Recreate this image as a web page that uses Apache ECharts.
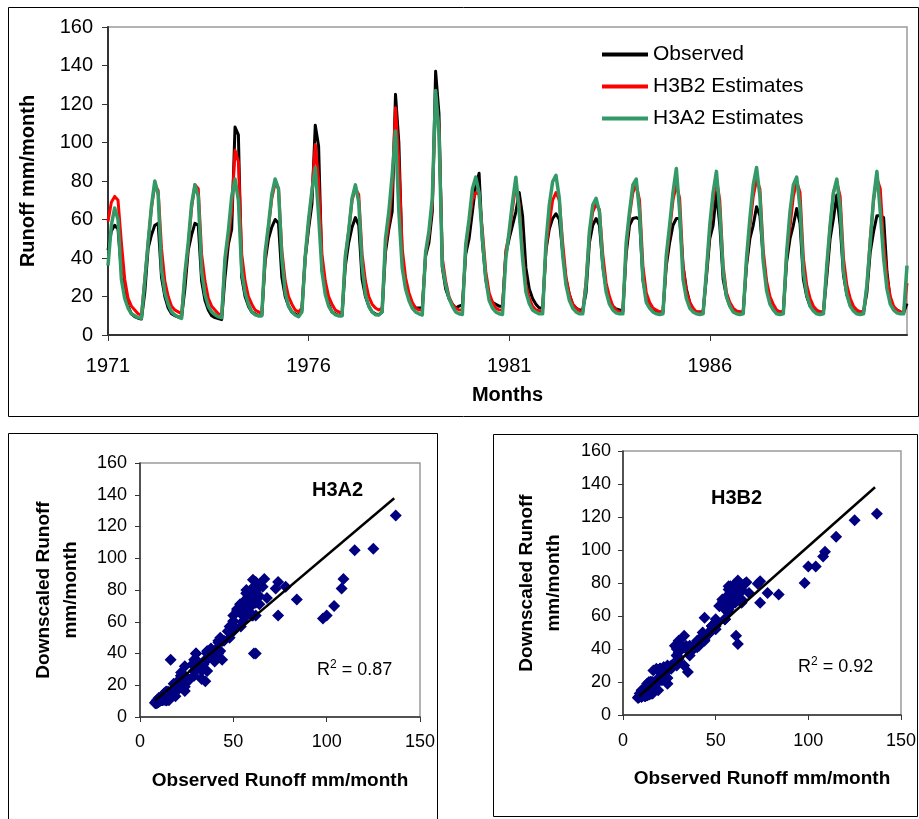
<!DOCTYPE html>
<html>
<head>
<meta charset="utf-8">
<script src="https://cdn.jsdelivr.net/npm/echarts@6/dist/echarts.min.js"></script>
<style>
  html, body { margin: 0; padding: 0; background: #fff; }
  #chart { width: 919px; height: 819px; }
</style>
</head>
<body>
<div id="chart"></div>
<script>
  // monthly runoff, mm/month, Jan 1971 .. Dec 1990 (one row per year)
  var observed = [
    44, 54, 57, 55, 33, 22, 15, 11, 9.5, 8.7, 8.3, 22,
    45, 52, 57, 58, 30, 20, 14, 11, 10, 9.5, 9, 24,
    44, 52, 58, 57, 28, 18, 13, 10, 9, 8.5, 8, 30,
    47, 55, 108, 104, 30, 20, 15, 12, 11, 10, 10, 38,
    50, 56, 60, 58, 30, 20, 15, 12, 11, 10, 13, 40,
    55, 68, 109, 98, 34, 24, 16, 12, 11, 10, 10, 36,
    48, 56, 61, 57, 29, 20, 15, 12, 11, 10.5, 12, 43,
    55, 64, 125, 100, 40, 26, 19, 16, 14, 14, 14, 41,
    48, 64, 137, 115, 35, 24, 19, 16, 14, 15, 15.6, 42,
    50, 64, 78, 84, 48, 29, 20, 17, 16, 15, 15, 42,
    50, 57, 64, 74, 62, 35, 24, 19, 16, 14, 14, 44,
    55, 60.5, 63, 60, 43, 29, 21, 16, 14, 13, 13, 22,
    48, 57, 60.5, 57, 36, 24, 18, 15, 13.5, 13, 12.5, 42,
    57, 60.5, 61, 60, 29, 19, 15, 13, 12, 12, 12, 36,
    48, 57, 60.5, 60.5, 36, 24, 17, 13, 12, 12, 12, 30,
    50, 57, 74, 57, 29, 20, 15, 13, 12, 12, 12, 36,
    50, 57, 66.6, 62, 40, 26, 18, 14, 12.5, 12, 12, 38,
    50, 57, 65.7, 58, 29, 20, 15, 13, 12, 12, 12, 30,
    50, 60.5, 72.7, 57, 31, 21, 16, 13, 12, 12, 12, 22,
    43, 53.6, 62, 62, 61, 33, 18, 14, 13, 12, 11.5, 16.4
  ]

  var h3b2 = [
    59, 69, 72, 70, 48, 29, 19, 15, 13, 11, 10.4, 29,
    48, 66, 78, 75, 45, 28, 20, 15, 13, 12, 11, 30,
    46, 66, 78, 76, 42, 28, 19, 15, 13, 11, 10.5, 38,
    50, 64, 96, 90, 42, 28, 20, 16, 13, 12, 11, 40,
    56, 71, 79, 76, 44, 28, 20, 16, 13, 12, 14, 41,
    58, 74, 99, 80, 42, 28, 20, 16, 13, 12, 11, 40,
    54, 70, 76, 73, 42, 28, 20, 16, 14, 13, 14, 46,
    58, 76, 118, 90, 45, 30, 22, 17, 14, 13, 13, 42,
    52, 68, 122, 108, 40, 28, 20, 16, 14, 13, 13, 45,
    58, 70, 74, 73, 54, 33, 22, 17, 14, 13, 13, 44,
    52, 66, 78, 68, 43, 26, 19, 15, 13, 12.5, 12.5, 45,
    58, 70, 74, 70, 48, 30, 21, 16, 14, 12.5, 12, 28,
    52, 64, 68, 65, 42, 27, 20, 15, 13, 12, 12, 45,
    62, 74, 78, 70, 36, 22, 17, 14, 13, 12, 12, 38,
    54, 70, 78, 71, 36, 22.5, 17, 14, 12, 12, 11.5, 32,
    54, 70, 81, 70, 36, 22, 17, 14, 12.5, 12, 11.5, 38,
    56, 72, 80.5, 76, 44, 28, 20, 16, 13, 12, 12, 42,
    56, 72, 79.6, 74, 40, 26, 19, 15, 13, 12, 12, 34,
    56, 74, 79.6, 72, 40, 26, 19, 15, 13, 12, 12, 25,
    50, 70, 81.5, 76, 48, 30, 20, 15, 13, 12, 11.5, 27
  ]

  var h3a2 = [
    36, 57, 66, 60, 29, 19, 14, 11, 10, 9, 8.7, 28,
    48, 67, 80, 73, 34, 22, 16, 12, 10.4, 9.3, 8.6, 32,
    48, 68, 78, 72, 33, 21, 15, 12, 10.5, 9.5, 9, 40,
    54, 72, 81, 70, 33, 22, 16, 12, 10.5, 10, 10, 43,
    57, 73, 81, 76, 40, 22, 15, 12, 10.4, 9.5, 12, 41,
    60, 75, 87, 62, 33, 21, 15, 12, 10.5, 10, 10, 41,
    54, 71, 78, 69, 36, 21, 15, 12, 10.5, 10.4, 12, 50,
    64, 83, 106, 64, 35, 24, 18, 14, 12, 11, 10.4, 43,
    54, 71, 127, 105, 36, 26, 19, 15, 12, 11, 10.7, 47,
    60, 76, 82, 74, 50, 29, 18, 14, 12, 11, 10.7, 40,
    54, 69, 82, 64, 40, 22.5, 16.4, 13, 11.8, 11, 11, 48,
    67.5, 79.6, 83, 71, 41.5, 26, 18, 14, 12, 11, 11, 26,
    53.6, 67.5, 71, 64, 36, 22.5, 16, 13, 11.5, 11, 11, 48,
    64, 78, 81, 64, 29, 17, 14, 12, 11, 10.7, 11, 41.5,
    57, 74, 86.5, 64, 29, 19, 14, 12, 11, 10.7, 11, 33,
    57, 74, 85, 64, 33, 20, 15, 12, 11, 10.7, 11, 40,
    60.5, 78, 87, 72, 38, 23, 16, 13, 11, 10.7, 11, 43,
    64, 78, 82, 66, 33, 21, 15, 12.5, 11, 10.7, 11, 36,
    57, 74, 81, 66, 33, 21, 15, 12.5, 11, 10.7, 11, 26,
    48, 71, 85, 64, 40, 24, 16, 13, 11.5, 11, 11, 36
  ]

  var yearTicks = ['1971', '1976', '1981', '1986']

  // trendline end points [observed, downscaled]
  var trendA2 = [[8, 10.3], [136.2, 137.8]]
  var trendB2 = [[8.8, 11.5], [136, 138]]

  var months = observed.map(function (v, i) {
    return (1971 + Math.floor(i / 12)) + '-' + String(i % 12 + 1).padStart(2, '0')
  })

  var font = 'Liberation Sans, Arial, sans-serif'
  var tickFn = function (i, v) {
    return v.slice(5) === '01' && yearTicks.indexOf(v.slice(0, 4)) >= 0
  }

  function scatterAxes(idx, ymargin, xmargin) {
    return {
      x: {
        type: 'value', gridIndex: idx, min: 0, max: 150, interval: 50,
        name: 'Observed Runoff mm/month', nameLocation: 'middle', nameGap: 54,
        nameTextStyle: { fontFamily: font, fontSize: 19, fontWeight: 'bold', color: '#000' },
        axisLine: { lineStyle: { color: '#333', width: 1.5 } },
        axisTick: { length: 5, lineStyle: { color: '#333' } },
        axisLabel: { fontFamily: font, fontSize: 18, color: '#000', margin: xmargin },
        splitLine: { show: false }
      },
      y: {
        type: 'value', gridIndex: idx, min: 0, max: 160, interval: 20,
        name: 'Downscaled Runoff\nmm/month', nameLocation: 'middle', nameGap: 56,
        nameTextStyle: { fontFamily: font, fontSize: 19, fontWeight: 'bold', color: '#000', lineHeight: 27 },
        axisLine: { show: true, lineStyle: { color: '#333', width: 1.5 } },
        axisTick: { show: true, length: 5, lineStyle: { color: '#333' } },
        axisLabel: { fontFamily: font, fontSize: 18, color: '#000', margin: ymargin },
        splitLine: { show: false }
      }
    }
  }

  var sa = scatterAxes(1, 13, 16)
  var sb = scatterAxes(2, 12, 17)

  var r2Rich = {
    a: { fontFamily: font, fontSize: 18, fontWeight: 'normal', color: '#000', lineHeight: 22 },
    s: { fontFamily: font, fontSize: 12, fontWeight: 'normal', color: '#000', verticalAlign: 'top', lineHeight: 22 }
  }

  var chart = echarts.init(document.getElementById('chart'))
  chart.setOption({
    animation: false,
    backgroundColor: '#fff',
    graphic: [
      { type: 'rect', shape: { x: 8.5, y: 7.5, width: 910, height: 409 }, style: { fill: 'none', stroke: '#000', lineWidth: 1 } },
      { type: 'rect', shape: { x: 8.5, y: 433.5, width: 429, height: 400 }, style: { fill: 'none', stroke: '#000', lineWidth: 1 } },
      { type: 'rect', shape: { x: 493.5, y: 434.5, width: 424, height: 382 }, style: { fill: 'none', stroke: '#000', lineWidth: 1 } }
    ],
    title: [
      { text: 'H3A2', left: 312, top: 480, padding: 0, textStyle: { fontFamily: font, fontSize: 20, fontWeight: 'bold', color: '#000' } },
      { text: 'H3B2', left: 711, top: 488, padding: 0, textStyle: { fontFamily: font, fontSize: 20, fontWeight: 'bold', color: '#000' } },
      { text: '{a|R}{s|2}{a| = 0.87}', left: 317, top: 659, padding: 0, textStyle: { fontWeight: 'normal', rich: r2Rich } },
      { text: '{a|R}{s|2}{a| = 0.92}', left: 798, top: 656, padding: 0, textStyle: { fontWeight: 'normal', rich: r2Rich } }
    ],
    legend: {
      data: ['Observed', 'H3B2 Estimates', 'H3A2 Estimates'],
      orient: 'vertical',
      left: 597, top: 39,
      itemWidth: 46, itemHeight: 4, itemGap: 11,
      icon: 'rect',
      textStyle: { fontFamily: font, fontSize: 21, color: '#000' }
    },
    grid: [
      { left: 108, top: 27, width: 799, height: 308, show: true, borderColor: '#9a9a9a', borderWidth: 1.5 },
      { left: 140, top: 463, width: 280, height: 254, show: true, borderColor: '#9a9a9a', borderWidth: 1.5 },
      { left: 623, top: 451, width: 279, height: 264, show: true, borderColor: '#9a9a9a', borderWidth: 1.5 }
    ],
    xAxis: [
      {
        type: 'category', gridIndex: 0, data: months, boundaryGap: false,
        name: 'Months', nameLocation: 'middle', nameGap: 50,
        nameTextStyle: { fontFamily: font, fontSize: 20, fontWeight: 'bold', color: '#000' },
        axisLine: { lineStyle: { color: '#333', width: 2 } },
        axisTick: { interval: tickFn, length: 6, lineStyle: { color: '#333' } },
        axisLabel: { interval: tickFn, formatter: function (v) { return v.slice(0, 4) }, fontFamily: font, fontSize: 20, color: '#000', margin: 21 },
        splitLine: { show: false }
      },
      sa.x, sb.x
    ],
    yAxis: [
      {
        type: 'value', gridIndex: 0, min: 0, max: 160, interval: 20,
        name: 'Runoff mm/month', nameLocation: 'middle', nameGap: 70,
        nameTextStyle: { fontFamily: font, fontSize: 20, fontWeight: 'bold', color: '#000' },
        axisLine: { show: true, lineStyle: { color: '#333', width: 2 } },
        axisTick: { show: true, length: 6, lineStyle: { color: '#333' } },
        axisLabel: { fontFamily: font, fontSize: 20, color: '#000', margin: 15 },
        splitLine: { show: false }
      },
      sa.y, sb.y
    ],
    series: [
      {
        name: 'Observed', type: 'line', xAxisIndex: 0, yAxisIndex: 0, data: observed,
        symbol: 'none', itemStyle: { color: '#000' },
        lineStyle: { color: '#000', width: 3, join: 'round' }
      },
      {
        name: 'H3B2 Estimates', type: 'line', xAxisIndex: 0, yAxisIndex: 0, data: h3b2,
        symbol: 'none', itemStyle: { color: '#ff0000' },
        lineStyle: { color: '#ff0000', width: 3, join: 'round' }
      },
      {
        name: 'H3A2 Estimates', type: 'line', xAxisIndex: 0, yAxisIndex: 0, data: h3a2,
        symbol: 'none', itemStyle: { color: '#339966' },
        lineStyle: { color: '#339966', width: 3.5, join: 'round' }
      },
      {
        name: 'H3A2 scatter', type: 'scatter', xAxisIndex: 1, yAxisIndex: 1,
        data: observed.map(function (v, i) { return [v, h3a2[i]] }),
        symbol: 'diamond', symbolSize: [12, 12], itemStyle: { color: '#000080', opacity: 1 }
      },
      {
        name: 'H3A2 trend', type: 'line', xAxisIndex: 1, yAxisIndex: 1, data: trendA2,
        symbol: 'none', lineStyle: { color: '#000', width: 2.5 }, z: 3
      },
      {
        name: 'H3B2 scatter', type: 'scatter', xAxisIndex: 2, yAxisIndex: 2,
        data: observed.map(function (v, i) { return [v, h3b2[i]] }),
        symbol: 'diamond', symbolSize: [12, 12], itemStyle: { color: '#000080', opacity: 1 }
      },
      {
        name: 'H3B2 trend', type: 'line', xAxisIndex: 2, yAxisIndex: 2, data: trendB2,
        symbol: 'none', lineStyle: { color: '#000', width: 2.5 }, z: 3
      }
    ]
  })
</script>
</body>
</html>
